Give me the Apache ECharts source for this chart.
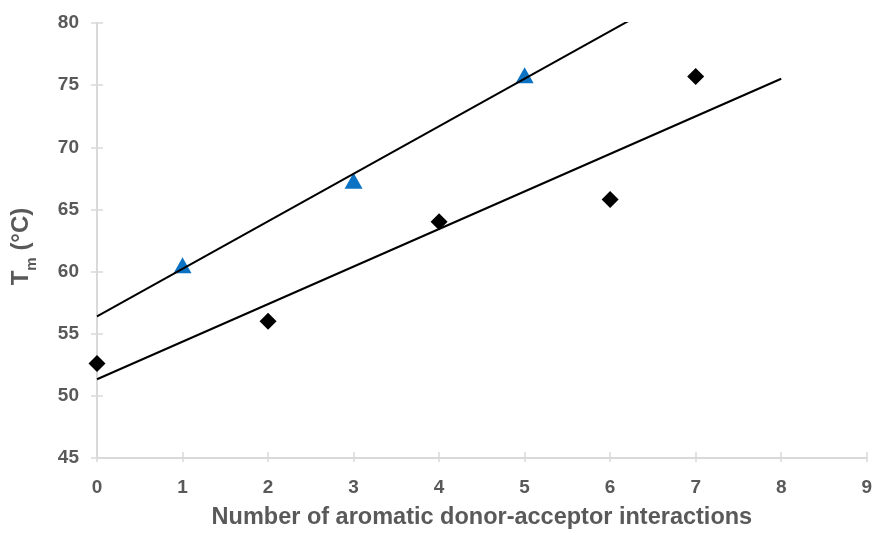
<!DOCTYPE html>
<html>
<head>
<meta charset="utf-8">
<script src="https://cdn.jsdelivr.net/npm/echarts@6/dist/echarts.min.js"></script>
<style>
html,body{margin:0;padding:0;background:#fff;}
#chart{width:875px;height:535px;}
</style>
</head>
<body>
<div id="chart"></div>
<script>
// Data
const triangleX = [1, 3, 5];
const triangleY = [60.5, 67.3, 75.8];
const diamondX = [0, 2, 4, 6, 7];
const diamondY = [52.6, 56.0, 64.0, 65.8, 75.7];
const trendRange = [0, 8];
const xTicks = [0, 1, 2, 3, 4, 5, 6, 7, 8, 9];
const yTicks = [45, 50, 55, 60, 65, 70, 75, 80];
const xTitle = 'Number of aromatic donor-acceptor interactions';

function fit(xs, ys) {
  const n = xs.length;
  const mx = xs.reduce((a, b) => a + b, 0) / n;
  const my = ys.reduce((a, b) => a + b, 0) / n;
  let sxy = 0, sxx = 0;
  for (let i = 0; i < n; i++) { sxy += (xs[i] - mx) * (ys[i] - my); sxx += (xs[i] - mx) ** 2; }
  const m = sxy / sxx, b = my - m * mx;
  return trendRange.map(x => [x, b + m * x]);
}

const labelColor = '#595959';
const axisColor = '#d9d9d9';
const font = '"Liberation Sans", Arial, sans-serif';

const chart = echarts.init(document.getElementById('chart'), null, {renderer: 'canvas'});
const baseX = {
  type: 'value', min: xTicks[0], max: xTicks[xTicks.length - 1], interval: 1,
  splitLine: {show: false}
};
const baseY = {
  type: 'value', min: yTicks[0], max: yTicks[yTicks.length - 1], interval: 5,
  splitLine: {show: false}
};
chart.setOption({
  animation: false,
  backgroundColor: '#fff',
  grid: {left: 97, right: 5, top: 23, bottom: 66, containLabel: false},
  xAxis: [
    Object.assign({}, baseX, {
      axisLine: {show: true, lineStyle: {color: axisColor, width: 2}},
      axisTick: {show: true, inside: true, length: 6, lineStyle: {color: axisColor, width: 1.5}},
      axisLabel: {color: labelColor, fontSize: 19, fontWeight: 'bold', fontFamily: font, margin: 20},
      name: xTitle, nameLocation: 'middle', nameGap: 48,
      nameTextStyle: {color: labelColor, fontSize: 23.5, fontWeight: 'bold', fontFamily: font}
    }),
    Object.assign({}, baseX, {
      position: 'bottom',
      axisLine: {show: false},
      axisTick: {show: true, inside: false, length: 4, lineStyle: {color: axisColor, width: 1.5}},
      axisLabel: {show: false}
    })
  ],
  yAxis: [
    Object.assign({}, baseY, {
      axisLine: {show: true, lineStyle: {color: axisColor, width: 2}},
      axisTick: {show: true, inside: true, length: 6, lineStyle: {color: axisColor, width: 1.5}},
      axisLabel: {color: labelColor, fontSize: 19, fontWeight: 'bold', fontFamily: font, margin: 18},
      name: '{t|T}{s|m}{t| (°C)}', nameLocation: 'middle', nameGap: 62, nameRotate: 90,
      nameTextStyle: {
        color: labelColor, fontFamily: font, padding: [0, 12, 0, 0],
        rich: {
          t: {fontSize: 24, fontWeight: 'bold', color: labelColor, fontFamily: font, lineHeight: 28},
          s: {fontSize: 15, fontWeight: 'bold', color: labelColor, fontFamily: font, lineHeight: 15, verticalAlign: 'bottom', padding: [0, 0, -4, 0]}
        }
      }
    }),
    Object.assign({}, baseY, {
      position: 'left',
      axisLine: {show: false},
      axisTick: {show: true, inside: false, length: 6, lineStyle: {color: axisColor, width: 1.5}},
      axisLabel: {show: false}
    })
  ],
  series: [
    {
      type: 'line', data: fit(triangleX, triangleY), symbol: 'none', clip: true,
      lineStyle: {color: '#000', width: 2}, z: 3
    },
    {
      type: 'line', data: fit(diamondX, diamondY), symbol: 'none', clip: true,
      lineStyle: {color: '#000', width: 2}, z: 3
    },
    {
      type: 'scatter', data: triangleX.map((x, i) => [x, triangleY[i]]),
      symbol: 'triangle', symbolSize: [18, 16],
      itemStyle: {color: '#0b72c4', opacity: 1}, z: 2
    },
    {
      type: 'scatter', data: diamondX.map((x, i) => [x, diamondY[i]]),
      symbol: 'diamond', symbolSize: [17, 17],
      itemStyle: {color: '#000', opacity: 1}, z: 2
    }
  ]
});
</script>
</body>
</html>
